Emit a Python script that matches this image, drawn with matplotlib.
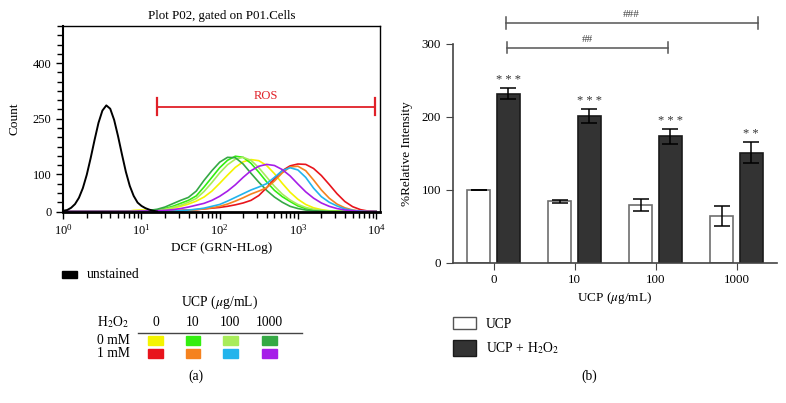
import matplotlib

matplotlib.use("Agg")

import matplotlib.pyplot as plt  # noqa: E402
import numpy as np  # noqa: E402
from matplotlib.patches import Rectangle  # noqa: E402
from matplotlib.ticker import LogLocator, MultipleLocator, NullFormatter  # noqa: E402

plt.rcParams["font.family"] = ["Liberation Serif", "DejaVu Serif"]
plt.rcParams["mathtext.fontset"] = "stix"

# ---- panel (a): flow histograms (log10 DCF -> count) ----
black_log = [0.00, 0.05, 0.10, 0.15, 0.20, 0.25, 0.30, 0.35, 0.40, 0.45, 0.50, 0.55,
             0.60, 0.65, 0.70, 0.75, 0.80, 0.85, 0.90, 0.95, 1.00, 1.05, 1.10, 1.15, 1.20]
black_cnt = [2, 4, 10, 20, 37, 63, 99, 144, 193, 239, 272, 286,
             277, 247, 203, 154, 107, 69, 42, 24, 15, 9, 5, 2, 0]

dcf_log = [0.0, 0.1, 0.2, 0.3, 0.4, 0.5, 0.6, 0.7, 0.8, 0.9,
           1.0, 1.1, 1.2, 1.3, 1.4, 1.5, 1.6, 1.7, 1.8, 1.9,
           2.0, 2.1, 2.2, 2.3, 2.4, 2.5, 2.6, 2.7, 2.8, 2.9,
           3.0, 3.1, 3.2, 3.3, 3.4, 3.5, 3.6, 3.7, 3.8, 3.9, 4.0]
yellow = [0, 0, 0, 0, 0, 0, 0, 0, 0, 3,
          4, 3, 3, 5, 9, 14, 20, 28, 39, 55,
          76, 98, 119, 134, 140, 137, 124, 102, 76, 52,
          33, 19, 10, 5, 2, 1, 0, 0, 0, 0, 0]
green = [0, 0, 0, 0, 0, 0, 0, 0, 0, 0,
         1, 2, 4, 8, 14, 22, 30, 42, 66, 92,
         118, 138, 149, 146, 130, 106, 80, 57, 40, 27,
         15, 8, 4, 2, 1, 0, 0, 0, 0, 0, 0]
lightgreen = [0, 0, 0, 0, 0, 0, 0, 0, 0, 0,
              1, 2, 3, 6, 11, 17, 25, 35, 54, 78,
              104, 126, 141, 146, 138, 118, 93, 68, 47, 31,
              19, 11, 6, 3, 1, 0, 0, 0, 0, 0, 0]
darkgreen = [0, 0, 0, 0, 0, 0, 0, 0, 0, 0,
             1, 3, 6, 12, 21, 30, 38, 55, 84, 110,
             133, 146, 145, 128, 103, 79, 57, 39, 25, 14,
             8, 4, 2, 1, 0, 0, 0, 0, 0, 0, 0]
red = [0, 0, 0, 0, 0, 0, 0, 0, 0, 0,
       0, 0, 1, 1, 2, 3, 4, 5, 7, 9,
       11, 14, 18, 23, 30, 43, 64, 88, 110, 123,
       128, 127, 116, 97, 73, 48, 27, 13, 5, 1, 0]
orange = [0, 0, 0, 0, 0, 0, 0, 0, 0, 0,
          0, 0, 0, 0, 1, 2, 3, 5, 7, 10,
          14, 20, 28, 37, 47, 55, 64, 82, 104, 120,
          122, 110, 85, 58, 36, 20, 10, 4, 1, 0, 0]
blue = [0, 0, 0, 0, 0, 0, 0, 0, 0, 0,
        0, 0, 0, 0, 1, 2, 4, 6, 9, 14,
        19, 28, 38, 48, 58, 66, 75, 92, 110, 118,
        112, 92, 63, 40, 25, 15, 7, 3, 1, 0, 0]
purple = [0, 0, 0, 0, 0, 0, 0, 0, 0, 0,
          1, 1, 2, 3, 5, 8, 12, 17, 22, 30,
          41, 55, 72, 92, 110, 122, 127, 124, 113, 96,
          74, 53, 36, 23, 14, 8, 4, 2, 0, 0, 0]

ucp_doses = ["0", "10", "100", "1000"]
h2o2_rows = ["0 mM", "1 mM"]
curve_colors = [["#f4f400", "#33ee10", "#a8ec5a", "#35a845"],
                ["#e8141c", "#f5821f", "#22b4ec", "#a61ee8"]]
curve_data = [[yellow, green, lightgreen, darkgreen],
              [red, orange, blue, purple]]

# ---- panel (b): bar chart ----
ucp_mean = [100, 84, 79, 64]
ucp_err = [0, 2, 8.5, 14]
h2o2_mean = [232, 201, 173, 151]
h2o2_err = [8, 9.5, 10.5, 14.5]
stars = ["* * *", "* * *", "* * *", "* *"]
# (label, left x, right x, height)
brackets = [("###", 0.15, 3.26, 329), ("##", 0.17, 2.15, 295)]

W, H = 786, 403
FS = 9.5


def fx(x):
    return x / W


def fy(y):
    return 1 - y / H


fig = plt.figure(figsize=(W / 100, H / 100), dpi=100)

# ---------------- (a) ----------------
ax = fig.add_axes([fx(63.3), fy(211.5), fx(380) - fx(63.3), fy(26) - fy(211.5)])
ax.plot(10 ** np.asarray(black_log), black_cnt, color="black", lw=1.4, zorder=3)
for r in range(2):
    for c in range(4):
        ax.plot(10 ** np.asarray(dcf_log), curve_data[r][c],
                color=curve_colors[r][c], lw=1.2, zorder=2)
ax.set_xscale("log")
ax.set_xlim(1, 10 ** 4.05)
ax.set_ylim(0, 500)
ax.set_yticks([0, 100, 250, 400])
ax.yaxis.set_minor_locator(MultipleLocator(25))
ax.xaxis.set_major_locator(LogLocator(base=10, numticks=10))
ax.xaxis.set_minor_locator(LogLocator(base=10, subs=np.arange(2, 10), numticks=10))
ax.xaxis.set_minor_formatter(NullFormatter())
ax.tick_params(which="both", direction="out", labelsize=9, width=1)
ax.tick_params(which="major", length=5)
ax.tick_params(which="minor", length=4)
for s in ax.spines.values():
    s.set_linewidth(1.0)
ax.spines["bottom"].set_linewidth(2.0)
ax.spines["left"].set_linewidth(1.5)
ax.set_title("Plot P02, gated on P01.Cells", fontsize=9.3, pad=5)
ax.set_ylabel("Count", fontsize=FS, labelpad=9)
ax.set_xlabel("DCF (GRN-HLog)", fontsize=FS, labelpad=3)

# ROS gate
ros_y, ros_x0, ros_x1 = 283, 10 ** 1.2, 10 ** 3.99
ax.plot([ros_x0, ros_x1], [ros_y, ros_y], color="#e02028", lw=1.3)
ax.plot([ros_x0, ros_x0], [ros_y - 24, ros_y + 24], color="#e02028", lw=1.6)
ax.plot([ros_x1, ros_x1], [ros_y - 24, ros_y + 24], color="#e02028", lw=1.6)
ax.text(np.sqrt(ros_x0 * ros_x1), ros_y + 12, "ROS", color="#e02028",
        ha="center", va="bottom", fontsize=9)

# legend for (a)
fig.add_artist(Rectangle((fx(62), fy(278)), fx(15), fy(271) - fy(278),
                         transform=fig.transFigure, color="black"))
fig.text(fx(87), fy(274.5), "unstained", va="center", fontsize=9.8)
fig.text(fx(220), fy(302), r"UCP ($\mu$g/mL)", ha="center", va="center", fontsize=9.8)
fig.text(fx(113), fy(322), r"H$_2$O$_2$", ha="center", va="center", fontsize=9.8)
col_x = [155.5, 193, 230.5, 269.5]
row_y = [340, 353.5]
for cx, lab in zip(col_x, ucp_doses):
    fig.text(fx(cx), fy(322), lab, ha="center", va="center", fontsize=9.8)
fig.add_artist(plt.Line2D([fx(138), fx(302)], [fy(333), fy(333)],
                          transform=fig.transFigure, color="#444444", lw=1))
for r, ry in enumerate(row_y):
    fig.text(fx(130), fy(ry), h2o2_rows[r], ha="right", va="center", fontsize=9.8)
    for c, cx in enumerate(col_x):
        fig.add_artist(Rectangle((fx(cx - 7.5), fy(ry + 4.5)), fx(15), fy(ry - 4.5) - fy(ry + 4.5),
                                 transform=fig.transFigure, color=curve_colors[r][c]))
fig.text(fx(196), fy(376), "(a)", ha="center", va="center", fontsize=9.8)

# ---------------- (b) ----------------
bx = fig.add_axes([fx(453), fy(262.5), fx(777) - fx(453), fy(44) - fy(262.5)])
xpos = np.arange(len(ucp_doses))
off, bw = 0.18, 0.285
ekw = dict(ecolor="black", elinewidth=1.1, capthick=1.1)
bx.bar(xpos - off, ucp_mean, bw, yerr=ucp_err, color="white", edgecolor="#6e6e6e",
       lw=1.2, capsize=5.5, error_kw=ekw, zorder=2)
bx.bar(xpos + off, h2o2_mean, bw, yerr=h2o2_err, color="#333333", edgecolor="#1a1a1a",
       lw=1.2, capsize=5.5, error_kw=ekw, zorder=2)
for i in range(len(ucp_doses)):
    bx.text(xpos[i] + off, h2o2_mean[i] + h2o2_err[i] + 3, stars[i], ha="center",
            va="bottom", fontsize=9, color="#333333")
for lab, x0, x1, yb in brackets:
    bx.plot([x0, x1], [yb, yb], color="#555555", lw=1.1, clip_on=False)
    for xe in (x0, x1):
        bx.plot([xe, xe], [yb - 8, yb + 8], color="#555555", lw=1.1, clip_on=False)
    bx.text((x0 + x1) / 2, yb + 5, lab, ha="center", va="bottom", fontsize=8,
            color="#444444", clip_on=False)
bx.set_xlim(-0.5, 3.5)
bx.set_ylim(0, 300)
bx.set_yticks([0, 100, 200, 300])
bx.set_xticks(xpos)
bx.set_xticklabels(ucp_doses)
bx.spines["top"].set_visible(False)
bx.spines["right"].set_visible(False)
for s in ("left", "bottom"):
    bx.spines[s].set_linewidth(1.2)
    bx.spines[s].set_color("#444444")
bx.tick_params(direction="out", length=5, labelsize=9.3, color="#444444")
bx.set_ylabel("%Relative Intensity", fontsize=FS, labelpad=6)
bx.set_xlabel(r"UCP ($\mu$g/mL)", fontsize=FS, labelpad=3)

fig.add_artist(Rectangle((fx(453), fy(329)), fx(23), fy(317) - fy(329),
                         transform=fig.transFigure, facecolor="white",
                         edgecolor="#555555", lw=1))
fig.add_artist(Rectangle((fx(453), fy(356)), fx(23), fy(340) - fy(356),
                         transform=fig.transFigure, facecolor="#333333",
                         edgecolor="#1a1a1a", lw=1))
fig.text(fx(486), fy(324), "UCP", va="center", fontsize=9.8)
fig.text(fx(486), fy(348), r"UCP + H$_2$O$_2$", va="center", fontsize=9.8)
fig.text(fx(589), fy(376), "(b)", ha="center", va="center", fontsize=9.8)

fig.savefig("out.png", dpi=100)
